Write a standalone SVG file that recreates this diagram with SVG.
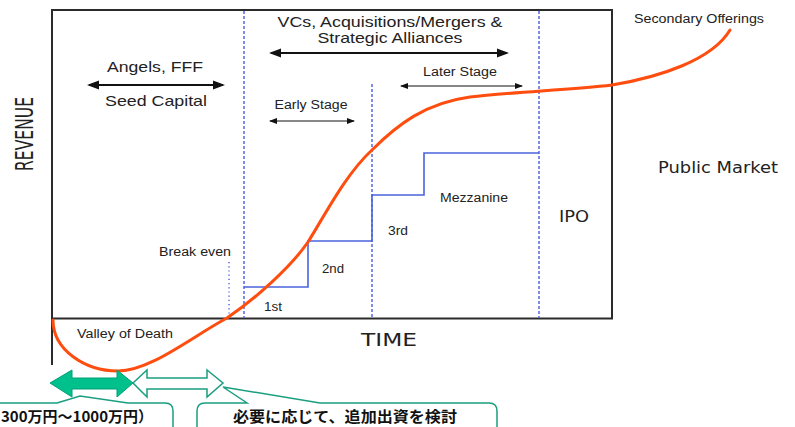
<svg xmlns="http://www.w3.org/2000/svg" width="795" height="427" viewBox="0 0 795 427">
  <defs>
    <style>
      .frame { fill: none; stroke: #2b2b2b; stroke-width: 2; }
      .stage { fill: none; stroke: #5566e0; stroke-width: 1.5; stroke-dasharray: 3 2; }
      .dots { fill: none; stroke: #5566e0; stroke-width: 1.5; stroke-dasharray: 1.2 3; }
      .steps { fill: none; stroke: #4a63dc; stroke-width: 1.6; }
      .curve { fill: none; stroke: #ff4d0f; stroke-width: 3; stroke-linecap: round; }
      .span-thick { fill: none; stroke: #111; stroke-width: 2.2; }
      .span-thin { fill: none; stroke: #111; stroke-width: 1.2; }
      .sans { font-family: "Liberation Sans", Arial, sans-serif; fill: #222; }
      .dv { font-family: "DejaVu Sans", Verdana, sans-serif; fill: #222; }
      .jp { font-family: "Noto Sans CJK JP", "Noto Sans CJK SC", sans-serif; fill: #111; font-weight: 700; }
      .callout { fill: #ffffff; stroke: #1a9e80; stroke-width: 1.5; }
    </style>
    <marker id="headBig" viewBox="0 0 12 10" refX="10" refY="5" markerWidth="12" markerHeight="10" markerUnits="userSpaceOnUse" orient="auto-start-reverse">
      <path d="M0,0.5 L12,5 L0,9.5 z" fill="#111"/>
    </marker>
    <marker id="headSmall" viewBox="0 0 8 6" refX="7" refY="3" markerWidth="8" markerHeight="6" markerUnits="userSpaceOnUse" orient="auto-start-reverse">
      <path d="M0,0 L8,3 L0,6 z" fill="#111"/>
    </marker>
  </defs>

  <!-- axes and the private-market frame -->
  <g id="frame">
    <line class="frame" x1="52" y1="10" x2="52" y2="365"/>
    <polyline class="frame" points="51,10 612,10 612,318.5 51,318.5"/>
  </g>

  <!-- stage boundaries -->
  <g id="stage-lines">
    <line class="stage" x1="244" y1="11" x2="244" y2="318"/>
    <line class="stage" x1="372" y1="84" x2="372" y2="318"/>
    <line class="stage" x1="539" y1="11" x2="539" y2="318"/>
    <line class="dots" x1="229" y1="262" x2="229" y2="318"/>
  </g>

  <!-- funding rounds staircase -->
  <g id="rounds">
    <polyline class="steps" points="244,287 308,287 308,241 372,241 372,195 424,195 424,153 539,153"/>
  </g>

  <!-- revenue curve -->
  <g id="revenue-curve">
    <path class="curve" d="M53,320 C53,350 85,371 118,371 C150,371 190,338 227,318 C255,299 290,268 308,242 C325,215 345,175 372,150 C397,125 425,103 470,97 C510,92 570,90 612,85 C660,77 712,60 730,30"/>
  </g>

  <!-- span arrows -->
  <g id="connectors">
    <line class="span-thick" x1="89" y1="85" x2="223" y2="85" marker-start="url(#headBig)" marker-end="url(#headBig)"/>
    <line class="span-thick" x1="271" y1="53" x2="507" y2="53" marker-start="url(#headBig)" marker-end="url(#headBig)"/>
    <line class="span-thin" x1="270" y1="121" x2="354" y2="121" marker-start="url(#headSmall)" marker-end="url(#headSmall)"/>
    <line class="span-thin" x1="401" y1="86" x2="522" y2="86" marker-start="url(#headSmall)" marker-end="url(#headSmall)"/>
  </g>

  <!-- labels -->
  <g id="axis-labels">
    <text class="dv" transform="translate(33,134) rotate(-90)" font-size="24" text-anchor="middle" textLength="74" lengthAdjust="spacingAndGlyphs">REVENUE</text>
    <text class="dv" x="389" y="346" font-size="18" text-anchor="middle" textLength="56" lengthAdjust="spacingAndGlyphs">TIME</text>
  </g>
  <g id="seed">
    <text class="sans" x="155" y="72" font-size="15" text-anchor="middle" textLength="96" lengthAdjust="spacingAndGlyphs">Angels, FFF</text>
    <text class="sans" x="156" y="106" font-size="15" text-anchor="middle" textLength="102" lengthAdjust="spacingAndGlyphs">Seed Capital</text>
  </g>
  <g id="vc">
    <text class="sans" x="390" y="27" font-size="15" text-anchor="middle" textLength="225" lengthAdjust="spacingAndGlyphs">VCs, Acquisitions/Mergers &amp;</text>
    <text class="sans" x="390" y="43" font-size="15" text-anchor="middle" textLength="145" lengthAdjust="spacingAndGlyphs">Strategic Alliances</text>
  </g>
  <g id="early-stage">
    <text class="sans" x="311" y="109" font-size="12" text-anchor="middle" textLength="73" lengthAdjust="spacingAndGlyphs">Early Stage</text>
  </g>
  <g id="later-stage">
    <text class="sans" x="460" y="76" font-size="12" text-anchor="middle" textLength="74" lengthAdjust="spacingAndGlyphs">Later Stage</text>
  </g>
  <g id="break-even">
    <text class="sans" x="195" y="256" font-size="12" text-anchor="middle" textLength="72" lengthAdjust="spacingAndGlyphs">Break even</text>
  </g>
  <g id="round-labels">
    <text class="sans" x="264" y="311" font-size="12" textLength="18" lengthAdjust="spacingAndGlyphs">1st</text>
    <text class="sans" x="322" y="273" font-size="12" textLength="22" lengthAdjust="spacingAndGlyphs">2nd</text>
    <text class="sans" x="388" y="235" font-size="12" textLength="20" lengthAdjust="spacingAndGlyphs">3rd</text>
    <text class="sans" x="440" y="202" font-size="12" textLength="68" lengthAdjust="spacingAndGlyphs">Mezzanine</text>
  </g>
  <g id="valley">
    <text class="sans" x="77" y="338" font-size="12" textLength="96" lengthAdjust="spacingAndGlyphs">Valley of Death</text>
  </g>
  <g id="public">
    <text class="dv" x="559" y="222" font-size="16" textLength="30" lengthAdjust="spacingAndGlyphs">IPO</text>
    <text class="dv" x="658" y="173" font-size="15" textLength="120" lengthAdjust="spacingAndGlyphs">Public Market</text>
    <text class="sans" x="634" y="23" font-size="12" textLength="130" lengthAdjust="spacingAndGlyphs">Secondary Offerings</text>
  </g>

  <!-- initial and follow-on investment periods -->
  <g id="seed-period">
    <polygon points="50,383 72,370 72,378 117,378 117,370 133,383 117,397 117,389 72,389 72,397" fill="#00c08c" stroke="#00a077" stroke-width="1"/>
  </g>
  <g id="follow-on-period">
    <polygon points="133,383 147,370 147,378 207,378 207,370 223,383 207,397 207,389 147,389 147,397" fill="#ffffff" stroke="#1a9e80" stroke-width="1.5"/>
  </g>

  <!-- callouts -->
  <g id="amount-note">
    <path class="callout" d="M-10,403 H57 L80,396 L128,403 H165 Q173,403 173,411 V440 H-10 Z"/>
    <text class="jp" x="153" y="422" font-size="15" text-anchor="end" textLength="152" lengthAdjust="spacingAndGlyphs">300万円〜1000万円）</text>
  </g>
  <g id="follow-on-note">
    <path class="callout" d="M205,403 H247 L223,387 L320,403 H489 Q497,403 497,411 V440 H197 V411 Q197,403 205,403 Z"/>
    <text class="jp" x="345" y="422" font-size="15" text-anchor="middle" textLength="224" lengthAdjust="spacingAndGlyphs">必要に応じて、追加出資を検討</text>
  </g>
</svg>
